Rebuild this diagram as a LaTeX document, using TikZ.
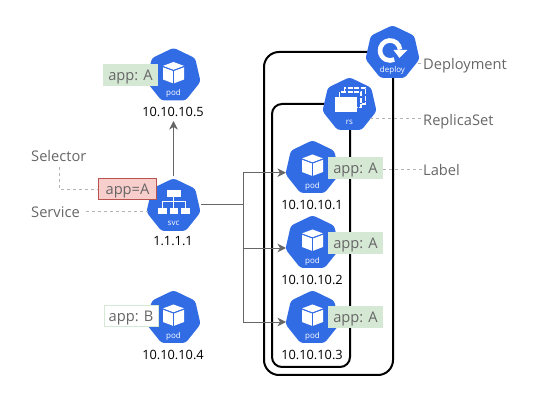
\documentclass[tikz,border=0pt]{standalone}
\usepackage{fontspec}
\setmainfont{Open Sans}
\usetikzlibrary{shapes.geometric,arrows.meta}
\definecolor{kblue}{HTML}{326CE5}
\definecolor{txtgray}{HTML}{666666}
\definecolor{dashgray}{HTML}{B3B3B3}
\definecolor{lblgreen}{HTML}{D5E8D4}
\definecolor{lblred}{HTML}{F8CECC}
\definecolor{lblredline}{HTML}{B85450}
\tikzset{
  hept/.style={regular polygon,regular polygon sides=7,minimum size=55.5pt,inner sep=0pt,fill=kblue,rounded corners=3pt},
  iconlabel/.style={text=white,font=\fontsize{8}{9}\selectfont,inner sep=0pt,anchor=base},
  iplabel/.style={text=black,font=\fontsize{12.8}{14}\selectfont,inner sep=0pt,anchor=base},
  greenlabel/.style={fill=lblgreen,text=txtgray,font=\fontsize{14.67}{16}\selectfont,minimum width=55pt,minimum height=22pt,inner sep=0pt,text height=13.5pt,text depth=2.5pt},
  graytext/.style={text=txtgray,font=\fontsize{14.67}{16}\selectfont,inner sep=0pt,anchor=base west},
  guide/.style={draw=dashgray,dashed,dash pattern=on 3pt off 3pt,line width=0.9pt},
  link/.style={draw=txtgray,line width=0.9pt},
  linkhead/.style={link,-{Stealth[length=8.5pt,width=8.5pt,inset=2.5pt]}},
  frame/.style={draw=black,line width=2pt},
  pics/cubeicon/.style={code={
    \begin{scope}[yshift=1pt]
    \fill[white] (-10.5,-7.5) -- (0,-3.5) -- (0,9) -- (-10.5,5) -- cycle;
    \fill[white] (10.5,-7.5) -- (0,-3.5) -- (0,9) -- (10.5,5) -- cycle;
    \fill[white] (-10.5,-8.6) -- (0,-12.5) -- (10.5,-8.6) -- (0,-4.6) -- cycle;
    \draw[kblue,line width=0.9pt] (0,-4) -- (0,9.5);
    \draw[kblue,line width=0.9pt] (-11,-8) -- (0,-4) -- (11,-8);
    \end{scope}
  }}
}
\begin{document}
\begin{tikzpicture}[x=1pt,y=-1pt]
\useasboundingbox (0,0) rectangle (544,403);
% frames
\draw[frame,rounded corners=15pt] (392.5,52) -- (264,52) -- (264,375) -- (393,375) -- (393,60);
\draw[frame,rounded corners=10pt] (350,104) -- (272,104) -- (272,367) -- (350,367) -- (350,110);
\coordinate (hub) at (243,204);
\coordinate (hubtop) at (243,172.7);
\coordinate (hubmid) at (243,248);
\coordinate (hubbot) at (243,322);
% icons
\node[hept] (pod5) at (173.5,75.5) {};
\node[hept] (svc) at (173.5,206) {};
\node[hept] (deploy) at (392.5,53) {};
\node[hept] (rs) at (349.5,105) {};
\node[hept] (pod1) at (312.5,168) {};
\node[hept] (pod2) at (312.5,243) {};
\node[hept] (pod3) at (312.5,318) {};
\node[hept] (pod4) at (173.5,318) {};
\foreach \n in {pod5,pod1,pod2,pod3,pod4}{
  \path (\n.center) pic {cubeicon};
  \node[iconlabel] (\n text) at ([yshift=-20.5pt]\n.center) {pod};
}
\node[iconlabel] (svctext) at ([yshift=-20pt]svc.center) {svc};
\node[iconlabel] (deploytext) at ([yshift=-20pt]deploy.center) {deploy};
\node[iconlabel] (rstext) at ([yshift=-20pt]rs.center) {rs};
% svc icon
\begin{scope}[shift={(svc.center)},yshift=1pt]
  \fill[white] (-7,-15) rectangle (7,-8);
  \fill[white] (-16,3) rectangle (-7,9);
  \fill[white] (-4,3) rectangle (4,9);
  \fill[white] (7,3) rectangle (16,9);
  \draw[white,line width=1pt] (0,-8) -- (0,3) (-11.5,3) -- (-11.5,-3) -- (11.5,-3) -- (11.5,3);
\end{scope}
% deploy icon
\begin{scope}[shift={(deploy.center)},yshift=1pt]
  \draw[white,line width=4.6pt] (7.5,-2.4) arc[start angle=-5,end angle=-295,radius=10];
  \fill[white] (1,-2) -- (15,-2) -- (7,6) -- cycle;
\end{scope}
% rs icon
\begin{scope}[shift={(rs.center)},yshift=1pt]
  \draw[white,line width=1.5pt,dash pattern=on 5pt off 1.5pt] (-5,-12.5) -- (-5,-16) -- (16,-16) -- (16,0) -- (12,0);
  \draw[white,line width=1.5pt,dash pattern=on 5pt off 1.5pt] (-10,-7) -- (-10,-12) -- (11.5,-12) -- (11.5,3.5) -- (7,3.5);
  \fill[white] (-15,8.5) -- (-15,-6.5) -- (7,-6.5) -- (7,8.5) -- cycle;
\end{scope}
% IP labels
\node[iplabel] (ip5) at (173,116.5) {10.10.10.5};
\node[iplabel] (ipsvc) at (173,246) {1.1.1.1};
\node[iplabel] (ip1) at (312,209.5) {10.10.10.1};
\node[iplabel] (ip2) at (312,284.5) {10.10.10.2};
\node[iplabel] (ip3) at (312,359.5) {10.10.10.3};
\node[iplabel] (ip4) at (173,359.5) {10.10.10.4};
% connectors
\draw[linkhead] ([yshift=2pt]svc.north) -- (svc.north |- 0,121);
\draw[link] ([xshift=2pt]svc.east |- hub) -- (hub);
\draw[link] (hubtop) -- (hubbot);
\draw[linkhead] (hubtop) -- (286,172.7);
\draw[linkhead] (hubmid) -- (286,248);
\draw[linkhead] (hubbot) -- (286,322);
% tag labels
\node[greenlabel] (l5) at (130.5,75) {app: A};
\node[greenlabel] (l1) at (355.5,168) {app: A};
\node[greenlabel] (l2) at (355.5,243) {app: A};
\node[greenlabel] (l3) at (355.5,317.5) {app: A};
\node[greenlabel,fill=white,draw=lblgreen,line width=0.9pt,minimum width=54pt,minimum height=21pt] (l4) at (131,316) {app: B};
\node[greenlabel,fill=lblred,draw=lblredline,line width=0.9pt,minimum width=58pt,minimum height=21pt] (sel) at (127.5,189) {app=A};
% side texts
\node[graytext] (tsel) at (31,161.5) {Selector};
\node[graytext] (tsvc) at (31,217.5) {Service};
\node[graytext] (tdep) at (423,69.5) {Deployment};
\node[graytext] (trs) at (423,125.5) {ReplicaSet};
\node[graytext] (tlab) at (423,175.5) {Label};
% guides
\draw[guide] (59,167) -- (59,189) -- (sel.west);
\draw[guide] (86,211) -- (148,211);
\draw[guide] (deploy.east |- 0,63) -- (tdep.west |- 0,63);
\draw[guide] (370,118) -- (tdep.west |- 0,118);
\draw[guide] (l1.east |- 0,169) -- (tdep.west |- 0,169);
\end{tikzpicture}
\end{document}
